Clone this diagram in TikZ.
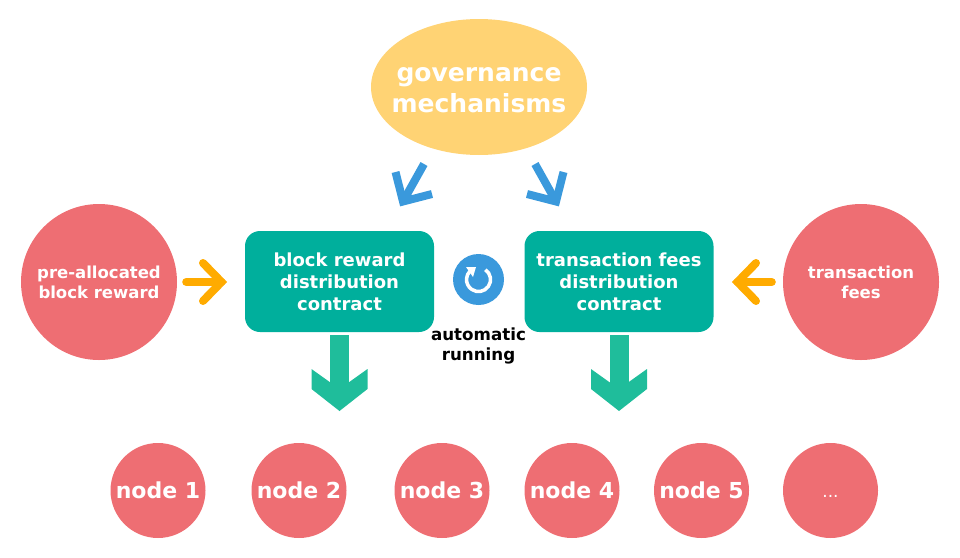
\documentclass[tikz,border=0pt]{standalone}
\usepackage{fontspec}
\setmainfont{DejaVu Sans}
\usepackage{tikz}
\usetikzlibrary{shapes.geometric}
\definecolor{rednode}{HTML}{EE6E73}
\definecolor{yellownode}{HTML}{FFD374}
\definecolor{tealbox}{HTML}{00AF9C}
\definecolor{tealarrow}{HTML}{1FBD9B}
\definecolor{bluemark}{HTML}{3A99DC}
\definecolor{orangemark}{HTML}{FFAB00}
\begin{document}
\begin{tikzpicture}[x=1pt,y=-1pt,
 source/.style={circle,fill=rednode,text=white,minimum size=156pt,inner sep=0pt,align=center,font=\fontsize{16.5}{20}\selectfont\bfseries,execute at begin node={\rule{0pt}{16.5pt}}},
 payee/.style={circle,fill=rednode,text=white,minimum size=95pt,inner sep=0pt,font=\fontsize{22}{26}\selectfont\bfseries},
 contract/.style={rectangle,rounded corners=15pt,fill=tealbox,text=white,minimum width=189pt,minimum height=101pt,inner sep=0pt,align=center,font=\fontsize{18}{22}\selectfont\bfseries,execute at begin node={\rule{0pt}{16pt}}},
 bluearrow/.style={draw=bluemark,line width=8pt,miter limit=10},
 orangearrow/.style={draw=orangemark,line width=8pt,line cap=round,line join=miter,miter limit=10},
 tealshaft/.style={draw=tealarrow,line width=19pt},
 downhead/.pic={\fill[tealarrow] (0,-22) -- (28,-42) -- (28,-22) -- (0,0) -- (-28,-22) -- (-28,-42) -- cycle;}]
\useasboundingbox (0,0) rectangle (960,557);
\node (governance) [ellipse,fill=yellownode,minimum width=216pt,minimum height=136pt,inner sep=0pt] at (479,87) {};
\node (governancetext) [text=white,align=center,inner sep=0pt,font=\fontsize{25}{31}\selectfont\bfseries] at (479,90) {governance\\mechanisms};
\node (prealloc) [source] at (99,282) {pre-allocated\\block reward};
\node (fees) [source] at (861,282) {transaction\\fees};
\node (rewardbox) [contract] at (339.5,281.5) {block reward\\distribution\\contract};
\node (feesbox) [contract] at (619,281.5) {transaction fees\\distribution\\contract};
\node (n1) [payee] at (158,490.5) {node 1};
\node (n2) [payee] at (299,490.5) {node 2};
\node (n3) [payee] at (442,490.5) {node 3};
\node (n4) [payee] at (572,490.5) {node 4};
\node (n5) [payee] at (701.5,490.5) {node 5};
\node (n6) [payee,font=\fontsize{17}{20}\selectfont,execute at begin node={\rule{0pt}{14pt}}] at (830.5,490.5) {...};
% running mark
\node (loop) [circle,fill=bluemark,minimum size=51pt,inner sep=0pt] at (478.5,279.5) {};
\node (running) [align=center,text=black,font=\fontsize{16.7}{20}\selectfont\bfseries] at (478.5,346) {automatic\\running};
\draw[white,line width=3.5pt] (485.4,269.7) arc[start angle=55,end angle=-225,radius=12pt];
\fill[white] (466,267) -- (476,267) -- (473,277) -- cycle;
% blue arrows
\coordinate (lefttip) at (403,201.5);
\coordinate (righttip) at (556,201.5);
\draw[bluearrow] (424,164) -- (lefttip);
\draw[bluearrow] (395.5,172) -- (lefttip) -- (432,194);
\draw[bluearrow] (535,164) -- (righttip);
\draw[bluearrow] (563.5,172) -- (righttip) -- (527,194);
% orange arrows
\coordinate (prealloctip) at (221.5,282);
\coordinate (feestip) at (737.5,282);
\draw[orangearrow] (prealloc.east)+(9,0) -- (prealloctip);
\draw[orangearrow] (203,263) -- (prealloctip) -- (203,301);
\draw[orangearrow] (fees.west)+(-11,0) -- (feestip);
\draw[orangearrow] (756,263) -- (feestip) -- (756,301);
% teal arrows
\coordinate (rewardhead) at (339.5,411);
\coordinate (feeshead) at (619,411);
\draw[tealshaft] ([yshift=-3pt]rewardbox.south) -- ([yshift=20pt]rewardhead);
\draw[tealshaft] ([yshift=-3pt]feesbox.south) -- ([yshift=20pt]feeshead);
\pic at (rewardhead) {downhead};
\pic at (feeshead) {downhead};
\end{tikzpicture}
\end{document}
